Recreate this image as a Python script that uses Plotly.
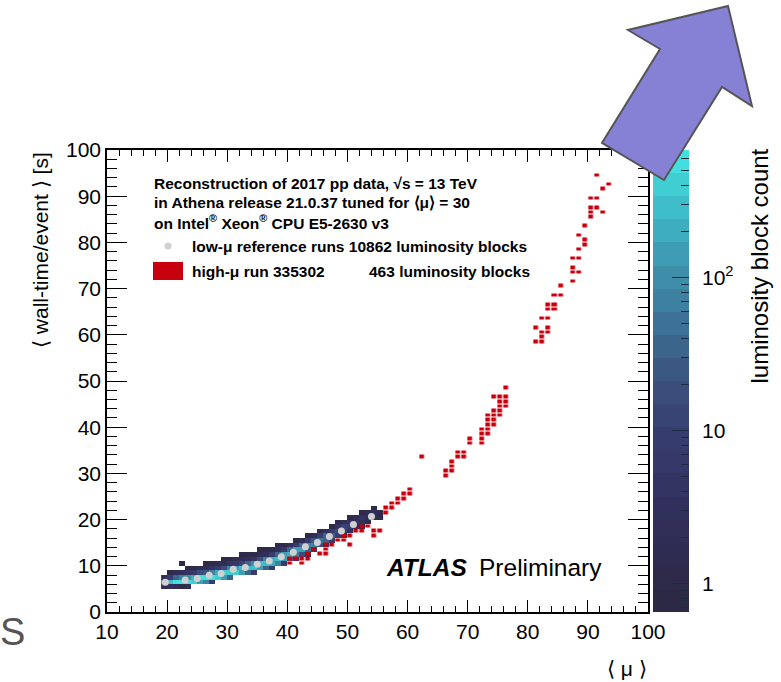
import numpy as np
import plotly.graph_objects as go

# ---------------- data ----------------
# low-mu reference runs: 2D histogram, 1x1 bins; lower mu edge, lowest t bin, counts upward
band_mu = list(range(19, 56))
band_t0 = [5, 5, 5, 5, 5, 6, 6, 6, 6, 7, 7, 7, 8, 8, 8, 8, 9, 9, 9, 10, 10,
           11, 11, 12, 12, 13, 14, 14, 15, 16, 16, 17, 18, 18, 19, 20, 20]
band_counts = [
    [2, 60, 2], [3, 300, 10, 1], [2, 500, 30, 2], [1, 600, 60, 3, 0, 1],
    [2, 550, 100, 4, 1], [450, 200, 6, 1], [150, 550, 15, 2], [60, 600, 25, 2, 1],
    [8, 550, 80, 4, 1], [450, 200, 8, 2], [150, 450, 20, 2, 1], [30, 400, 80, 4, 1],
    [350, 150, 6, 2], [150, 300, 12, 2, 1], [40, 300, 40, 3, 1], [8, 250, 100, 5, 1],
    [150, 300, 20, 2, 1], [40, 300, 60, 3, 1], [8, 200, 200, 8, 1], [60, 250, 30, 3, 1],
    [10, 150, 150, 6, 1], [30, 200, 30, 3], [6, 80, 120, 8, 1], [15, 120, 40, 3],
    [3, 40, 80, 8, 1], [8, 60, 25, 2], [15, 50, 8, 1], [4, 30, 30, 3],
    [8, 30, 10, 1], [8, 20, 4, 1], [2, 12, 12, 2], [3, 10, 4, 1], [2, 5, 2],
    [1, 3, 4, 1], [1, 3, 2], [2, 2, 1], [1, 1],
]

# low-mu reference profile (grey points)
prof_mu = [19.7, 23, 25, 27, 29, 31, 33, 35, 37, 39, 41, 43, 45, 47, 49, 51, 54]
prof_t = [6.45, 6.95, 7.25, 7.95, 8.35, 9.25, 9.65, 10.35, 11.05, 11.95, 12.95,
          14.15, 15.05, 16.35, 17.55, 18.95, 20.65]

# high-mu run 335302 (red boxes): bin centres
red_mu = [40.5, 40.5, 41.5, 42.5, 42.5, 43.5, 43.5, 44.5, 45.5, 46.5, 46.5, 46.5,
          47.5, 48.5, 49.5, 50.5, 49.5, 50.5, 51.5, 52.5, 52.5, 53.5, 54.5, 54.5,
          55.5, 56.5, 56.5, 57.5, 57.5, 58.5, 58.5, 59.5, 59.5, 60.5, 60.5,
          62.5, 66.5, 66.5, 67.5, 67.5, 67.5, 68.5, 68.5, 69.5, 69.5, 70.5, 70.5,
          72.5, 72.5, 72.5, 72.5, 73.5, 73.5, 73.5, 73.5, 73.5, 74.5, 74.5, 74.5,
          74.5, 74.5, 75.5, 75.5, 75.5, 75.5, 75.5, 76.5, 76.5, 76.5, 76.5,
          81.5, 81.5, 82.5, 82.5, 82.5, 82.5, 83.5, 83.5, 83.5, 83.5, 83.5, 84.5,
          84.5, 84.5, 85.5, 85.5, 87.5, 87.5, 87.5, 88.5, 87.5, 88.5, 88.5, 89.5,
          89.5, 88.5, 89.5, 90.5, 90.5, 92.5, 90.5, 91.5, 90.5, 91.5, 92.5, 93.5, 91.5]
red_t = [11.5, 10.5, 11.5, 11.5, 10.5, 12.5, 11.5, 13.5, 12.5, 14.5, 13.5, 12.5,
         14.5, 15.5, 15.5, 14.5, 16.5, 16.5, 17.5, 17.5, 18.5, 18.5, 17.5, 16.5,
         17.5, 21.5, 22.5, 22.5, 23.5, 23.5, 24.5, 24.5, 25.5, 25.5, 26.5,
         33.5, 30.5, 29.5, 32.5, 31.5, 30.5, 34.5, 33.5, 34.5, 33.5, 37.5, 36.5,
         39.5, 38.5, 37.5, 36.5, 42.5, 41.5, 40.5, 39.5, 38.5, 43.5, 42.5, 41.5,
         40.5, 46.5, 46.5, 45.5, 44.5, 43.5, 42.5, 48.5, 46.5, 45.5, 44.5,
         61.5, 58.5, 63.5, 60.5, 59.5, 58.5, 63.5, 61.5, 60.5, 66.5, 65.5, 66.5,
         65.5, 68.5, 68.5, 70.5, 71.5, 74.5, 73.5, 73.5, 76.5, 76.5, 78.5, 80.5,
         79.5, 81.5, 83.5, 86.5, 85.5, 86.5, 87.5, 87.5, 89.5, 89.5, 91.5, 92.5, 94.5]

# colour palette of the z axis (bottom -> top), 20 bands
palette = ["#2b2944", "#2d2a4a", "#2e2c50", "#302e56", "#31305c", "#333462",
           "#353868", "#363d6e", "#384474", "#3a4d7b", "#3b5883", "#3c658c",
           "#3d7296", "#3d80a0", "#3e8eaa", "#3e9db4", "#3eadbe", "#3fbdc8",
           "#40ced3", "#42dfde"]
z_min_count, z_max_count = 0.65, 680
cbar_major = [1, 10, 100]
cbar_major_text = ["1", "10", "10<sup>2</sup>"]
cbar_minor = [0.7, 0.8, 0.9, 2, 3, 4, 5, 6, 7, 8, 9, 20, 30, 40, 50, 60, 70, 80, 90,
              200, 300, 400, 500, 600]

# ---------------- geometry ----------------
W, H = 781, 682
ML, MR, MT, MB = 107, 92, 150, 70
PW, PH = W - ML - MR, H - MT - MB
PLOT_R, CB_L, CB_R = 648, 653, 689


def px(x):
    return (x - ML) / PW


def py(y):
    return (H - MB - y) / PH


FONT = "Liberation Sans, Arial, Helvetica, sans-serif"

# ---------------- build grids ----------------
xc = np.arange(19, 56) + 0.5
yc = np.arange(4, 25) + 0.5
zb = np.full((len(yc), len(xc)), np.nan)
for m, t0, cnts in zip(band_mu, band_t0, band_counts):
    for k, c in enumerate(cnts):
        if c > 0:
            zb[t0 + k - 4, m - 19] = np.log10(c)

rxc = np.arange(40, 95) + 0.5
ryc = np.arange(10, 96) + 0.5
zr = np.full((len(ryc), len(rxc)), np.nan)
for m, t in zip(red_mu, red_t):
    zr[int(t - 10.5), int(m - 40.5)] = 1.0

n = len(palette)
cscale = []
for i, c in enumerate(palette):
    cscale.append([i / n, c])
    cscale.append([(i + 1) / n, c])

zmin, zmax = np.log10(z_min_count), np.log10(z_max_count)
cb_levels = zmin + (np.arange(n) + 0.5) * (zmax - zmin) / n

fig = go.Figure()
fig.add_trace(go.Heatmap(
    x=xc, y=yc, z=zb, colorscale=cscale, zmin=zmin, zmax=zmax,
    hoverongaps=False, showscale=False,
))
fig.add_trace(go.Heatmap(
    x=rxc, y=ryc, z=zr, colorscale=[[0, "#c8000e"], [1, "#c8000e"]],
    showscale=False, xgap=1.3, ygap=1.0, hoverongaps=False,
))
fig.add_trace(go.Scatter(
    x=prof_mu, y=prof_t, mode="markers",
    marker=dict(size=7, color="#d0d0d0", line=dict(width=0)),
    showlegend=False,
))
# colour bar (z axis) drawn as its own strip
fig.add_trace(go.Heatmap(
    x=[0], y=cb_levels, z=[[v] for v in cb_levels], colorscale=cscale,
    zmin=zmin, zmax=zmax, showscale=False, xaxis="x2", yaxis="y2",
    hoverinfo="skip",
))

axis_common = dict(
    showline=True, linecolor="black", linewidth=1.5, mirror="allticks",
    ticks="inside", tickcolor="black", tickwidth=1.2, showgrid=False, zeroline=False,
    tickfont=dict(family=FONT, size=21, color="black"),
)
fig.update_layout(
    xaxis=dict(domain=[0, px(PLOT_R)], range=[10, 100], tickmode="linear", tick0=10,
               dtick=10, ticklen=12,
               minor=dict(dtick=2, ticks="inside", ticklen=6, tickcolor="black",
                          tickwidth=1, showgrid=False),
               **axis_common),
    yaxis=dict(range=[0, 100], tickmode="linear", tick0=0, dtick=10, ticklen=20,
               minor=dict(dtick=2, ticks="inside", ticklen=10, tickcolor="black",
                          tickwidth=1, showgrid=False),
               **axis_common),
    xaxis2=dict(domain=[px(CB_L), 1.0], range=[-0.5, 0.5], visible=False,
                anchor="y2"),
    yaxis2=dict(domain=[0, 1], range=[zmin, zmax], anchor="x2", side="right",
                showgrid=False, zeroline=False, showline=False,
                tickmode="array", tickvals=list(np.log10(cbar_major)),
                ticktext=cbar_major_text, ticks="inside", ticklen=17, tickwidth=1.2,
                tickcolor="#1c2c3e", ticklabelstandoff=12,
                tickfont=dict(family=FONT, size=21, color="black"),
                minor=dict(tickmode="array", tickvals=list(np.log10(cbar_minor)),
                           ticks="inside", ticklen=8, tickwidth=1.2,
                           tickcolor="#1c2c3e", showgrid=False)),
)

ann = []


def text(x, y, s, size=15.5, xanchor="left", **kw):
    ann.append(dict(x=x, y=y, xref="paper", yref="paper", text=s, showarrow=False,
                    xanchor=xanchor, yanchor=kw.pop("yanchor", "middle"),
                    font=dict(family=FONT, size=size, color=kw.pop("color", "black")),
                    **kw))


text(px(152), py(183), "<b>Reconstruction of 2017 pp data, √s = 13 TeV</b>")
text(px(152), py(202), "<b>in Athena release 21.0.37 tuned for ⟨μ⟩ = 30</b>")
text(px(152), py(221.5), "<b>on Intel<sup>®</sup> Xeon<sup>®</sup> CPU E5-2630 v3</b>")
text(px(190), py(246.5), "<b>low-μ reference runs 10862 luminosity blocks</b>")
text(px(190), py(271), "<b>high-μ run 335302</b>")
text(px(367), py(271), "<b>463 luminosity blocks</b>")
text(px(384), py(567), "<b><i>ATLAS</i></b>", size=24.5)
text(px(477), py(567), "Preliminary", size=24.5)
text(px(PLOT_R + 1), py(668), "⟨ μ ⟩", size=21, xanchor="right")
text(px(40), 1.0, "⟨ wall-time/event ⟩ [s]", size=21, xanchor="center",
     yanchor="top", textangle=-90)
text(px(759), py(147), "luminosity block count", size=24, xanchor="center",
     yanchor="top", textangle=-90)
text(px(-2), py(632), "S", size=38, color="#555555")

shapes = [
    dict(type="circle", xref="paper", yref="paper", x0=px(164.5), x1=px(171.5),
         y0=py(242.5), y1=py(249.5), fillcolor="#d0d0d0", line=dict(width=0)),
    dict(type="rect", xref="paper", yref="paper", x0=px(153), x1=px(183),
         y0=py(280), y1=py(262), fillcolor="#c8000e", line=dict(width=0)),
]
arrow_px = [(728, 6), (752, 106), (722, 87), (664, 180), (602, 143), (660, 49), (628, 30)]
path = "M " + " L ".join(f"{px(a):.4f},{py(b):.4f}" for a, b in arrow_px) + " Z"
shapes.append(dict(type="path", xref="paper", yref="paper", path=path,
                   fillcolor="#8781d6", line=dict(color="#555555", width=2),
                   layer="above"))

fig.update_layout(
    width=W, height=H, margin=dict(l=ML, r=MR, t=MT, b=MB, autoexpand=False),
    paper_bgcolor="white", plot_bgcolor="white", showlegend=False,
    annotations=ann, shapes=shapes, font=dict(family=FONT),
)
fig.write_html("out.html")
